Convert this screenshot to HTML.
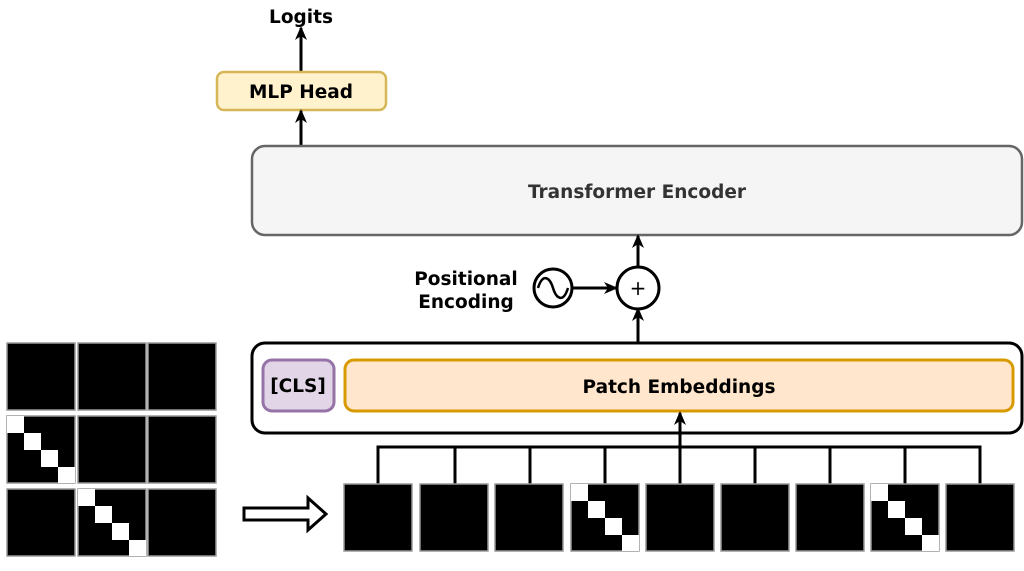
<!DOCTYPE html>
<html><head><style>body{margin:0;background:#fff}</style></head><body>
<svg width="1024" height="566" xmlns="http://www.w3.org/2000/svg" font-family="DejaVu Sans, Liberation Sans, sans-serif" font-weight="bold">
<defs>
<marker id="a" markerWidth="14" markerHeight="14" refX="12" refY="7" orient="auto" markerUnits="userSpaceOnUse"><path d="M0,1 L14,7 L0,13 L4,7 Z" fill="#000"/></marker>
<g id="blk"><rect x="0" y="0" width="68" height="67" fill="#000" stroke="#999" stroke-width="1.5"/></g>
<g id="dg"><rect x="0" y="0" width="68" height="67" fill="#000" stroke="#999" stroke-width="1.5"/>
<rect x="0" y="0" width="17" height="17" fill="#fff"/><rect x="17" y="17" width="17" height="17" fill="#fff"/><rect x="34" y="34" width="17" height="17" fill="#fff"/><rect x="51" y="51" width="17" height="16" fill="#fff"/></g>
</defs>
<text x="301" y="23" font-size="18.5" text-anchor="middle">Logits</text>
<line x1="301" y1="71" x2="301" y2="28" stroke="#000" stroke-width="3" marker-end="url(#a)"/>
<rect x="217" y="72" width="169" height="38" rx="7" fill="#fff2cc" stroke="#d6b656" stroke-width="2.5"/>
<text x="301" y="98" font-size="18.5" text-anchor="middle">MLP Head</text>
<line x1="301" y1="147" x2="301" y2="111" stroke="#000" stroke-width="3" marker-end="url(#a)"/>
<rect x="252" y="146" width="770" height="89" rx="13" fill="#f5f5f5" stroke="#666" stroke-width="2.5"/>
<text x="637" y="198" font-size="18.5" text-anchor="middle" fill="#333">Transformer Encoder</text>
<text x="466" y="285" font-size="18.5" text-anchor="middle">Positional</text>
<text x="466" y="308" font-size="18.5" text-anchor="middle">Encoding</text>
<circle cx="553" cy="288" r="19" fill="#fff" stroke="#000" stroke-width="3"/>
<path d="M538,288 C543,272 550,278 553,288 C556,298 563,304 568,288" fill="none" stroke="#000" stroke-width="2.5"/>
<line x1="572" y1="288" x2="616" y2="288" stroke="#000" stroke-width="3" marker-end="url(#a)"/>
<circle cx="638" cy="288" r="21" fill="#fff" stroke="#000" stroke-width="3"/>
<text x="638" y="295" font-size="20" text-anchor="middle" font-weight="normal">+</text>
<line x1="638" y1="266" x2="638" y2="236" stroke="#000" stroke-width="3" marker-end="url(#a)"/>
<line x1="638" y1="343" x2="638" y2="309" stroke="#000" stroke-width="3" marker-end="url(#a)"/>
<rect x="252" y="343" width="770" height="90" rx="13" fill="#fff" stroke="#000" stroke-width="3"/>
<rect x="263" y="360" width="71" height="51" rx="9" fill="#e1d5e7" stroke="#9673a6" stroke-width="3"/>
<text x="298" y="392" font-size="18.5" text-anchor="middle">[CLS]</text>
<rect x="345" y="360" width="668" height="51" rx="9" fill="#ffe6cc" stroke="#d79b00" stroke-width="3"/>
<text x="679" y="393" font-size="18.5" text-anchor="middle">Patch Embeddings</text>
<line x1="680" y1="484" x2="680" y2="413" stroke="#000" stroke-width="3" marker-end="url(#a)"/>
<path d="M378,484 V447 H980 V484 M455,447 V484 M530,447 V484 M605,447 V484 M755,447 V484 M830,447 V484 M905,447 V484" fill="none" stroke="#000" stroke-width="3"/>
<use href="#blk" x="344" y="484"/><use href="#blk" x="420" y="484"/><use href="#blk" x="495" y="484"/><use href="#dg" x="571" y="484"/><use href="#blk" x="646" y="484"/><use href="#blk" x="721" y="484"/><use href="#blk" x="796" y="484"/><use href="#dg" x="871" y="484"/><use href="#blk" x="946" y="484"/>
<use href="#blk" x="7" y="343"/><use href="#blk" x="78" y="343"/><use href="#blk" x="148" y="343"/>
<use href="#dg" x="7" y="416"/><use href="#blk" x="78" y="416"/><use href="#blk" x="148" y="416"/>
<use href="#blk" x="7" y="489"/><use href="#dg" x="78" y="489"/><use href="#blk" x="148" y="489"/>
<path d="M244,508 H308 V498 L326,514 L308,530 V520 H244 Z" fill="#fff" stroke="#000" stroke-width="3"/>
</svg>
</body></html>
